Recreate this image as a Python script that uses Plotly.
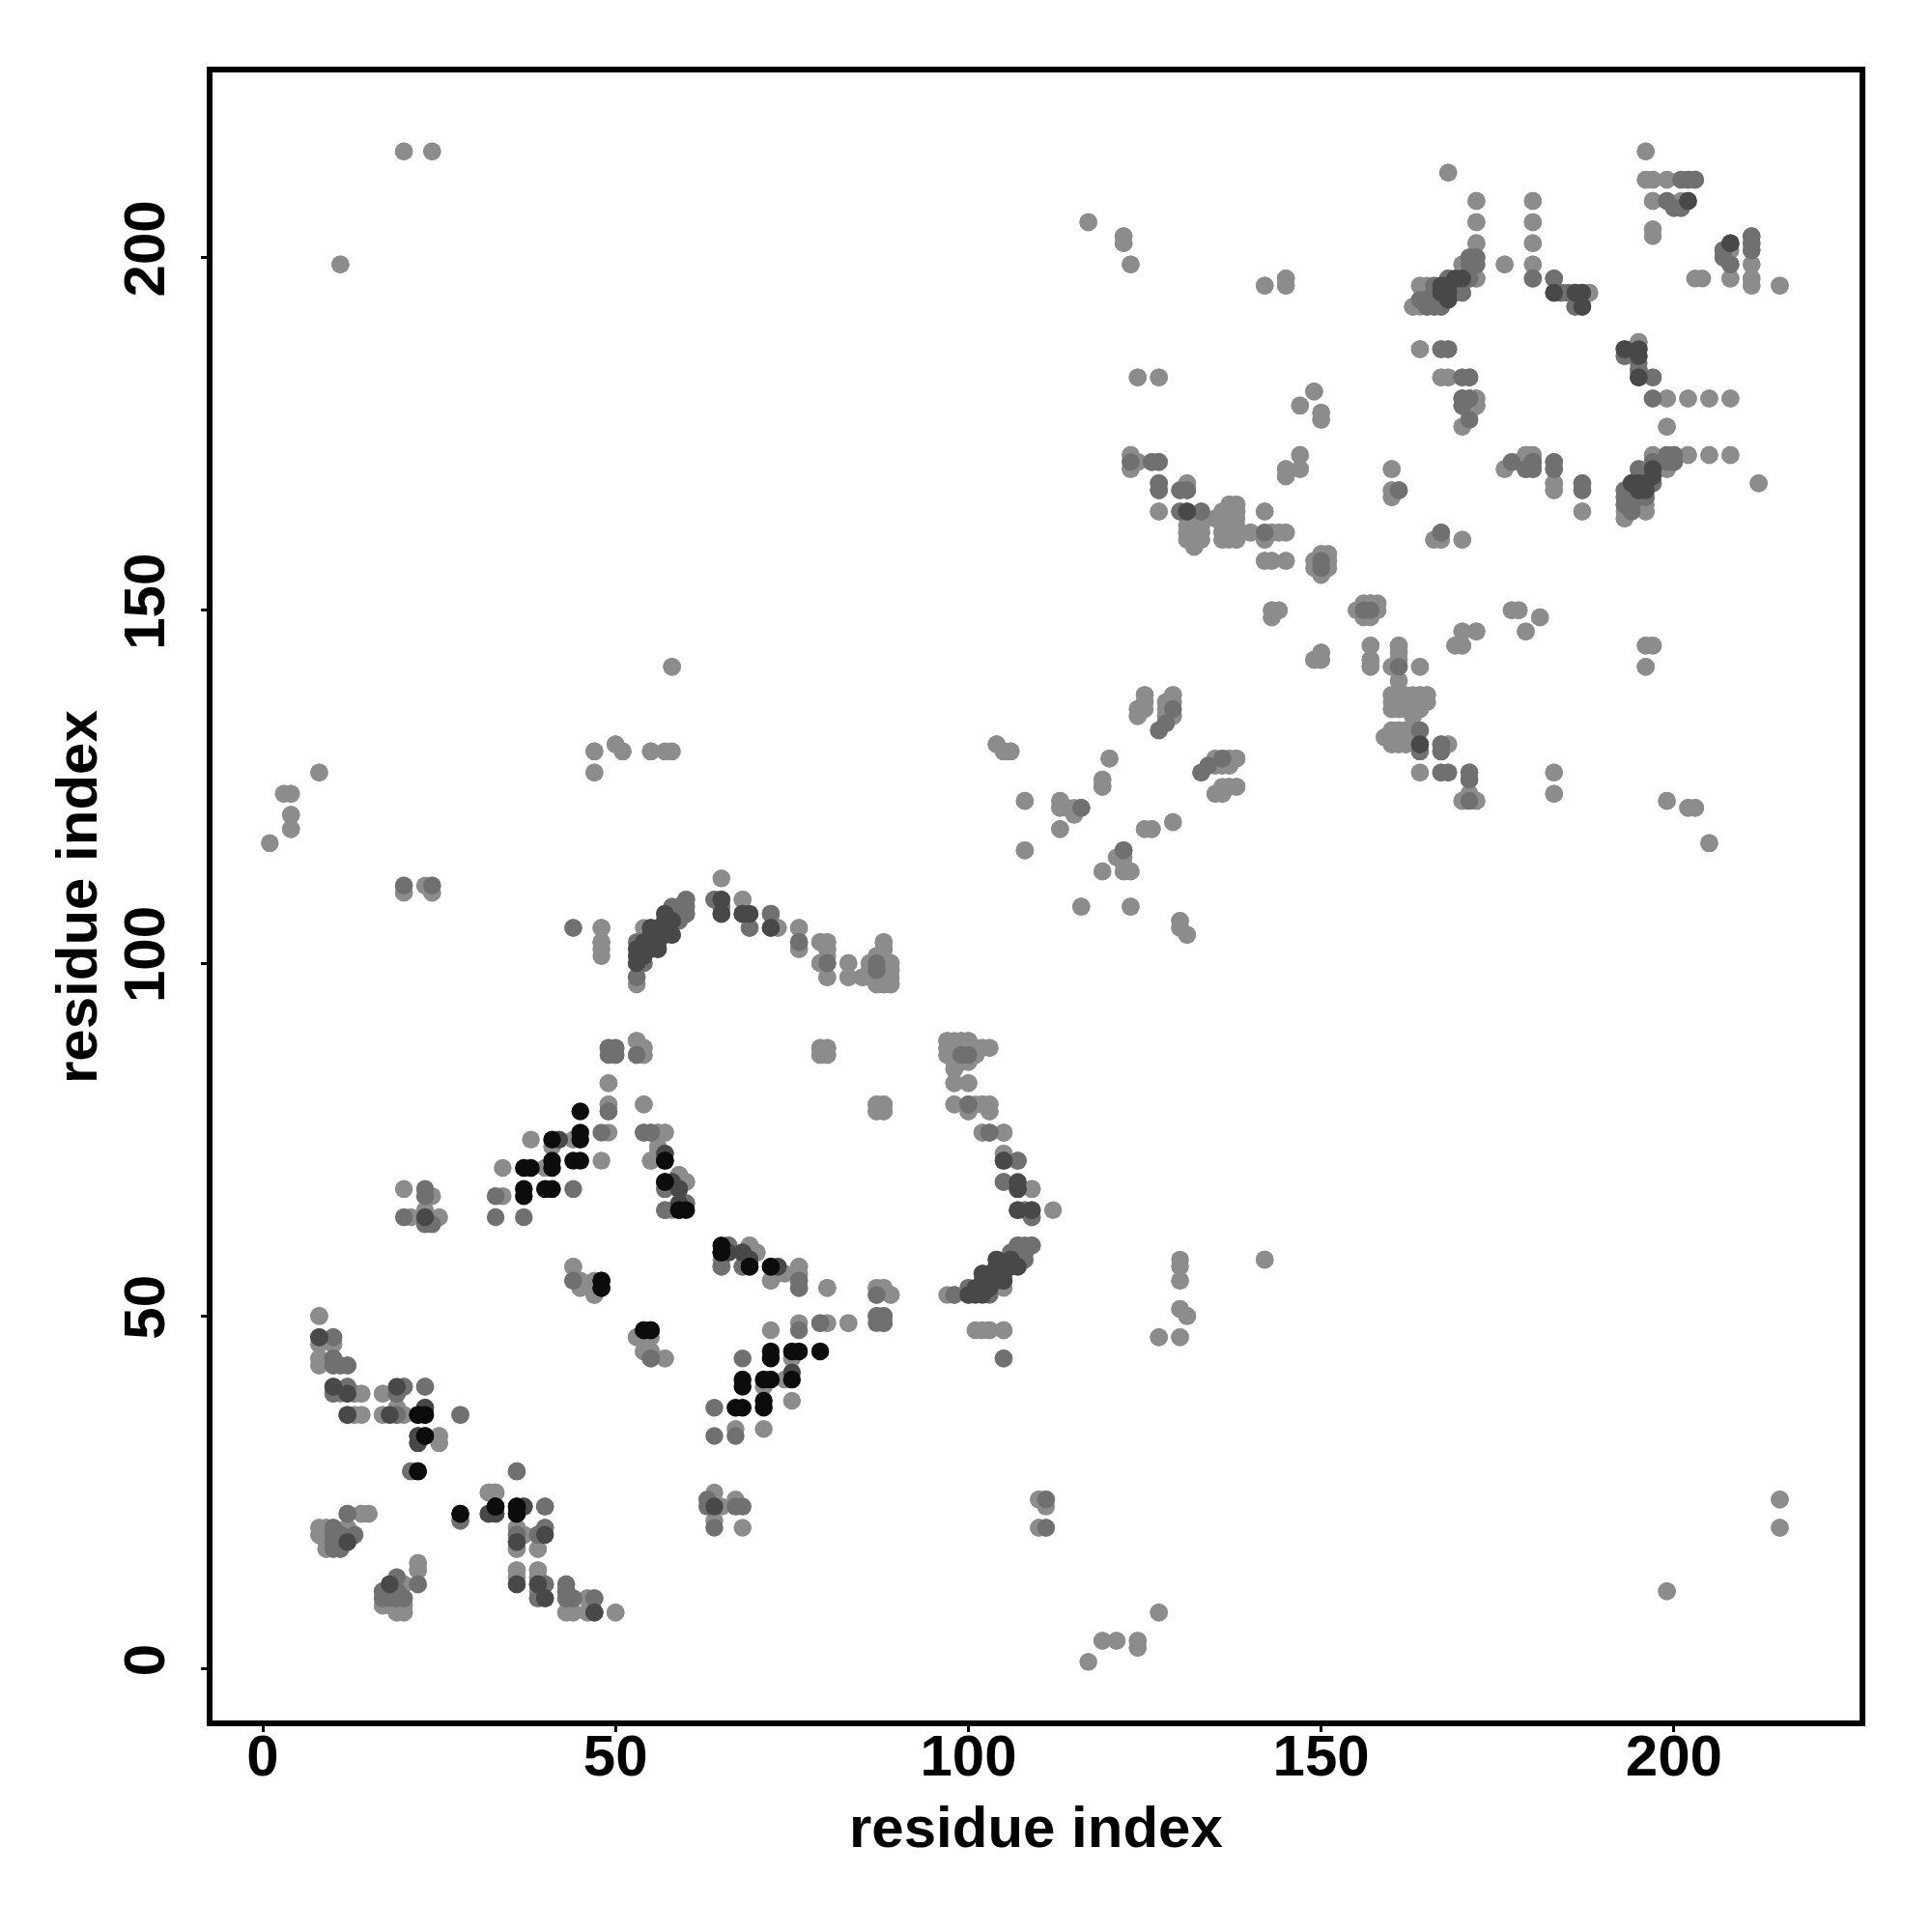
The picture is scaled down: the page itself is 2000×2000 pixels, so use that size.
import plotly.graph_objects as go

light = [(8,50),(8,46),(10,46),(8,44),(8,43),(11,39),(13,39),(14,39),(17,39),(13,36),(14,36),(17,36),(19,37),(20,36),(25,33),(25,32),(21,28),(32,25),(33,25),(36,20),(37,19),(36,17),(39,17),(36,14),(36,13),(39,14),(39,13),(43,8),(44,8),(46,10),(46,8),(50,8),(8,20),(8,19),(9,20),(9,18),(9,17),(10,17),(14,22),(15,22),(12,20),(13,19),(22,15),(22,14),(20,12),(17,9),(19,9),(19,8),(20,8),(20,9),
(20,110),(23,111),(24,110),(48,105),(48,103),(48,102),(53,98),(53,100),(54,100),(54,105),(68,109),(73,105),(76,105),(76,102),(79,103),(79,100),(50,88),(50,87),(53,89),(53,87),(54,88),(54,87),(79,88),(79,87),(49,83),(49,80),(54,80),(49,76),(56,76),(57,76),(38,75),(44,75),(41,74),(56,74),(55,72),(48,72),(40,71),(34,71),(34,67),(20,68),(24,67),(21,64),(25,64),(23,65),(59,70),(60,69),(58,65),(69,60),(70,59),(73,56),(72,55),(76,57),(76,56),(44,57),(45,55),(45,54),(47,53),(47,55),(53,47),(54,47),(54,45),(55,45),(57,44),
(108,116),(121,115),(119,113),(122,113),(123,113),(116,108),(123,108),(130,106),(130,105),(131,104),(80,103),(80,102),(80,98),(83,100),(83,98),(85,98),(86,100),(87,101),(88,103),(88,102),(89,100),(89,99),(89,97),(88,97),(87,97),(86,98),(88,98),(80,88),(80,87),(97,89),(98,89),(99,89),(100,89),(97,88),(98,88),(99,88),(101,88),(102,88),(103,88),(97,87),(98,87),(99,87),(101,87),(100,86),(98,85),(99,86),(98,83),(100,83),(98,80),(100,79),(101,80),(102,80),(103,80),(103,79),(87,80),(88,80),(87,79),(88,79),(102,76),(105,76),(105,73),(109,68),(112,65),(130,57),(130,55),
(97,53),(101,48),(103,48),(105,48),(105,44),(110,24),(111,24),(110,20),(111,20),(215,24),(215,20),(199,11),(117,1),(119,4),(121,4),(124,4),(124,3),(127,8),(130,51),(131,50),(127,47),(130,47),(142,58),(80,49),(83,49),(80,54),(87,54),(88,54),(89,53),(8,127),(3,124),(4,124),(4,121),(4,119),(47,127),(47,130),(50,131),(51,130),(55,130),(58,130),(58,142),(20,215),(24,215),(11,199),
(149,181),(147,179),(150,178),(150,177),(123,172),(123,170),(124,171),(131,168),(127,164),(131,162),(132,162),(133,162),(131,161),(132,161),(133,161),(131,160),(132,160),(133,160),(132,159),(137,165),(138,165),(136,164),(137,164),(138,164),(136,163),(137,163),(138,163),(135,163),(136,162),(137,162),(138,162),(136,161),(137,161),(138,161),(136,160),(138,160),(140,161),(142,164),(142,161),(143,161),(144,161),(145,161),(142,160),(142,157),(143,157),(145,157),(149,157),(150,156),(150,158),(151,158),(151,157),(147,172),(145,170),(147,170),(145,169),(160,170),(160,167),(160,166),(166,160),(167,160),(170,160),(143,150),(144,150),(143,149),(155,150),(156,151),(157,151),(157,150),(156,149),(170,147),(172,147),(169,145),(170,145),(177,150),(178,150),(181,149),(179,147),(150,144),(149,143),(150,143),(157,145),(157,143),(157,142),(161,145),(161,144),(161,143),(160,142),(164,142),(161,140),(160,138),(161,138),(160,137),(161,137),(164,138),(165,138),(160,136),(161,136),(163,136),(164,136),(165,137),(164,137),(163,137),(163,135),(159,132),(160,133),(161,133),(162,133),(160,132),(161,132),(162,132),(160,131),(161,131),(162,131),(168,131),(164,127),(171,124),(170,123),(172,123),(171,123),(125,138),(125,137),(124,136),(125,136),(124,135),(129,138),(128,137),(129,137),(128,136),(128,135),(129,135),(120,129),(134,128),(135,129),(136,129),(137,129),(138,129),(136,128),(137,128),(135,128),(135,124),(136,124),(137,125),(138,125),(129,120),(170,180),(172,180),(170,179),(172,179),(171,177),(170,176),(176,170),(179,172),(180,172),(179,170),(180,170),(178,171),
(168,212),(196,215),(172,208),(208,172),(172,205),(172,202),(172,197),(180,208),(180,205),(180,202),(180,199),(176,199),(188,195),(163,193),(164,193),(164,196),(165,196),(166,196),(170,195),(170,199),(164,187),(168,187),(167,183),(168,183),(172,179),(195,188),(195,187),(194,187),(199,180),(202,180),(205,180),(208,180),(199,176),(197,172),(202,172),(205,172),(199,170),(193,163),(194,164),(196,164),(212,168),(196,211),(197,211),(199,211),(201,211),(197,208),(200,207),(201,208),(197,203),(208,197),(211,199),(211,197),(211,196),(204,197),(215,196),(183,168),(183,167),(187,164),(196,145),(197,145),(196,142),(183,127),(183,124),(199,123),(202,122),(203,122),(205,117),
(104,131),(105,130),(106,130),(119,126),(119,125),(108,123),(113,123),(113,122),(114,122),(115,122),(116,122),(113,119),(125,119),(126,119),(122,116),(117,205),(122,203),(122,202),(123,199),(124,183),(127,183),(142,196),(145,197),(145,196)]

mid = [(10,47),(10,44),(11,43),(12,43),(10,43),(19,36),(43,10),(36,19),(10,39),(12,40),(20,40),(19,39),(23,40),(18,36),(28,36),(28,21),(36,28),(40,23),(40,20),(39,19),(40,12),(39,10),(43,12),(43,11),(44,10),(47,10),(10,20),(10,19),(11,19),(11,17),(12,22),(22,12),(19,13),(18,12),(17,11),(18,11),(19,11),(17,10),(18,10),(20,10),(12,18),
(20,111),(24,111),(44,105),(53,103),(64,109),(65,108),(58,108),(59,108),(60,109),(60,107),(72,107),(69,105),(76,103),(49,88),(49,87),(49,79),(48,76),(54,76),(55,76),(44,68),(33,67),(23,68),(23,67),(33,64),(37,64),(20,64),(23,63),(24,63),(57,68),(57,65),(60,66),(66,60),(65,57),(68,57),(73,57),(76,55),(44,55),(55,44),(76,54),
(122,116),(80,100),(87,99),(100,87),(100,80),(103,76),(107,72),(105,69),(108,65),(109,64),(107,60),(108,60),(109,60),(106,59),(107,59),(108,59),(107,57),(100,54),(98,53),(87,53),(87,50),(88,50),(88,49),(79,49),
(123,171),(126,171),(127,171),(127,168),(127,167),(130,167),(130,164),(133,164),(131,167),(167,131),(161,167),(150,157),(167,161),(156,150),(161,142),(164,133),(167,130),(164,130),(167,127),(168,127),(171,127),(171,126),(129,136),(128,134),(127,133),(133,127),(171,180),(177,171),(180,171),
(172,200),(172,199),(180,197),(183,197),(184,195),(185,195),(186,195),(186,193),(165,193),(166,193),(167,193),(164,194),(165,194),(166,194),(168,194),(166,195),(169,195),(167,196),(168,197),(170,197),(171,197),(171,200),(171,199),(167,187),(170,183),(171,183),(170,180),(170,179),(193,186),(195,184),(197,183),(197,180),(199,172),(200,172),(197,171),(200,171),(195,170),(193,166),(193,165),(194,165),(193,167),(194,166),(196,166),(197,168),(202,211),(203,211),(199,208),(201,207),(207,201),(207,200),(208,199),(211,203),(211,202),(211,201),(183,171),(183,170),(187,168),(187,167)]

dark = [(8,47),(10,40),(12,39),(12,36),(23,37),(22,33),(22,32),(32,22),(33,22),(37,23),(40,19),(36,18),(36,12),(39,12),(47,8),(18,12),(40,10),
(55,105),(55,104),(55,102),(56,102),(54,102),(57,107),(57,106),(57,104),(58,104),(58,106),(56,105),(56,103),(56,104),(65,109),(65,107),(68,107),(69,107),(42,75),(57,73),(58,69),(59,68),(59,66),(68,59),(69,58),(23,64),
(72,105),(105,72),(107,68),(107,65),(109,65),(104,58),(105,57),(106,58),(102,56),(104,57),(105,55),(100,53),(101,53),(102,53),(101,54),(103,55),(104,55),(103,54),
(131,164),(164,131),(183,195),(167,195),(168,195),(169,197),(187,193),(187,195),(193,187),(195,183),(195,186),(197,170),(194,168),(195,168),(196,168),(195,167),(196,167),(202,208),(208,202)]

black = [(22,36),(23,36),(23,33),(22,28),(33,23),(36,23),(36,22),(28,22),
(45,79),(45,76),(45,75),(41,75),(57,72),(44,72),(45,72),(41,72),(41,71),(37,71),(38,71),(37,68),(37,67),(40,68),(41,68),(57,69),(59,65),(65,60),(65,59),(69,57),(72,57),(48,55),(48,54),(54,48),(55,48)]

groups = [("#8c8c8c", light), ("#707070", mid), ("#484848", dark), ("#0c0c0c", black)]
ticks = [0, 50, 100, 150, 200]
axis_title = "residue index"
FONT = "Liberation Sans"

fig = go.Figure()
for color, pts in groups:
    xs = [a for a, b in pts] + [b for a, b in pts]
    ys = [b for a, b in pts] + [a for a, b in pts]
    fig.add_trace(go.Scatter(x=xs, y=ys, mode="markers", showlegend=False,
                             marker=dict(color=color, size=18.5, line=dict(width=0))))

axis = dict(tickmode="array", tickvals=ticks, ticktext=[str(t) for t in ticks],
            ticks="outside", ticklen=6, tickwidth=3, tickcolor="black",
            showgrid=False, zeroline=False, showline=True, linecolor="black",
            linewidth=6, mirror=True,
            tickfont=dict(family=FONT, size=60, color="black", weight="bold"))
fig.update_xaxes(range=[-7.12, 226.3], ticklabelstandoff=-27, **axis)
fig.update_yaxes(range=[-7.3, 226.2], tickangle=-90, ticklabelstandoff=14, **axis)
fig.update_layout(width=2000, height=2000, autosize=False,
                  margin=dict(l=220, r=75, t=75, b=219, pad=0),
                  paper_bgcolor="white", plot_bgcolor="white", showlegend=False,
                  annotations=[
                      dict(text=axis_title, xref="paper", yref="paper", x=0.5, y=-0.065,
                           yanchor="middle", xanchor="center", showarrow=False,
                           font=dict(family=FONT, size=60, color="black", weight="bold")),
                      dict(text=axis_title, xref="paper", yref="paper", x=-0.0827, y=0.5,
                           textangle=-90, yanchor="middle", xanchor="center", showarrow=False,
                           font=dict(family=FONT, size=60, color="black", weight="bold")),
                  ])
fig.write_html("out.html", config={"displayModeBar": False},
               post_script="document.body.style.margin='0';")
